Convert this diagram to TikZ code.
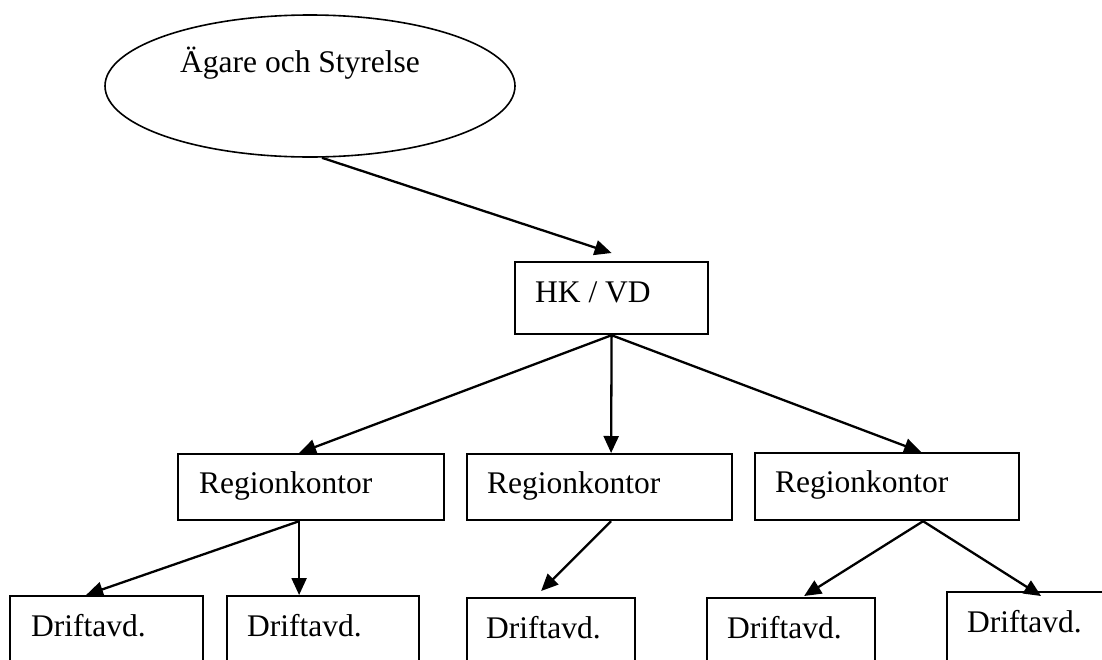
\documentclass[tikz,border=0pt]{standalone}
\usepackage{fontspec}
\setmainfont{Liberation Serif}
\usetikzlibrary{shapes.geometric,arrows.meta}
\begin{document}
\begin{tikzpicture}[x=1pt,y=-1pt,
  box/.style={draw,line width=2.2pt,rectangle,inner sep=0pt,anchor=north west},
  txt/.style={anchor=base west,inner sep=0pt,font=\fontsize{31.5}{38}\selectfont},
  conn/.style={line width=2.3pt,-{Triangle[length=17pt,width=15pt]}}]
\useasboundingbox (0,0) rectangle (1102,659);
% owner ellipse
\node[draw,ellipse,line width=1.6pt,minimum width=410pt,minimum height=142pt,inner sep=0pt] (own) at (310,86) {};
\node[txt] (owntxt) at (180,72) {Ägare och Styrelse};
% HK
\node[box,minimum width=193pt,minimum height=72pt] (hk) at (514,261) {};
\node[txt] (hktxt) at (535,302) {HK / VD};
% regions
\node[box,minimum width=266pt,minimum height=66pt] (r1) at (177,453) {};
\node[box,minimum width=265pt,minimum height=66pt] (r2) at (466,453) {};
\node[box,minimum width=264pt,minimum height=67pt] (r3) at (754,452) {};
\node[txt] (r1txt) at (199,493) {Regionkontor};
\node[txt] (r2txt) at (487,493) {Regionkontor};
\node[txt] (r3txt) at (775,492) {Regionkontor};
% bottom
\node[box,minimum width=193pt,minimum height=100pt] (d1) at (9,595) {};
\node[box,minimum width=192pt,minimum height=100pt] (d2) at (226,595) {};
\node[box,minimum width=168pt,minimum height=100pt] (d3) at (466,597) {};
\node[box,minimum width=168pt,minimum height=100pt] (d4) at (706,597) {};
\node[box,minimum width=200pt,minimum height=100pt] (d5) at (946,591) {};
\node[txt] (d1txt) at (31,636) {Driftavd.};
\node[txt] (d2txt) at (247,636) {Driftavd.};
\node[txt] (d3txt) at (486,638) {Driftavd.};
\node[txt] (d4txt) at (727,638) {Driftavd.};
\node[txt] (d5txt) at (967,632) {Driftavd.};
% connectors
\draw[conn] ([xshift=12pt]own.south) -- ([yshift=8pt]hk.north);
\draw[conn] (hk.south) -- ([xshift=-12pt]r1.north);
\draw[conn] (hk.south) -- ([xshift=11.5pt]r2.north);
\draw[conn] (hk.south) -- ([xshift=34pt]r3.north);
\draw[conn] ([xshift=-12pt]r1.south) -- ([xshift=-20.5pt]d1.north);
\draw[conn] ([xshift=-12pt]r1.south) -- ([xshift=-24pt]d2.north);
\draw[conn] ([xshift=11.5pt]r2.south) -- ([xshift=-10pt,yshift=6pt]d3.north);
\draw[conn] ([xshift=36pt]r3.south) -- ([xshift=13pt,yshift=1pt]d4.north);
\draw[conn] ([xshift=36pt]r3.south) -- ([xshift=-6pt,yshift=-5pt]d5.north);
\end{tikzpicture}
\end{document}
